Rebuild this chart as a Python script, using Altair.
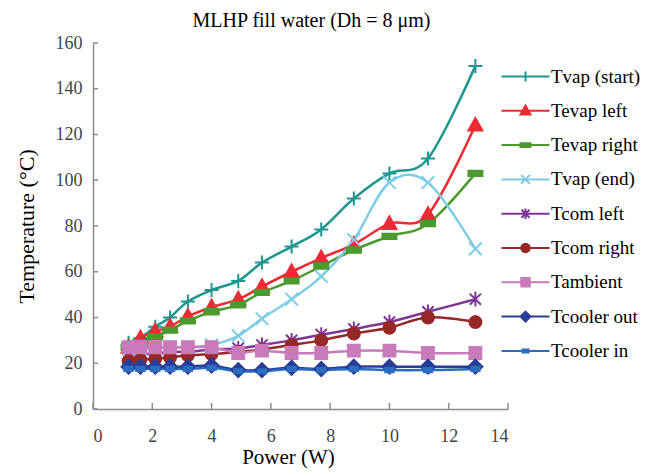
import math
import altair as alt
import pandas as pd

# ---------------- data ----------------
power = [1.2, 1.6, 2.1, 2.6, 3.2, 4.0, 4.9, 5.7, 6.7, 7.7, 8.8, 10.0, 11.3, 12.9]

tvap_start = [29, 31, 36, 40, 47, 52, 56, 64, 71, 78.5, 92, 103, 109.5, 150]
tevap_left = [27, 31, 34, 36, 40.5, 44.5, 48, 53.5, 60, 66, 72, 81, 85, 124]
tevap_right = [27, 29, 31.5, 34.5, 38.5, 42.5, 45.5, 51, 56, 62.5, 69.5, 75.5, 81, 103]
tvap_end = [26, 26, 27, 27, 27, 28, 32, 39.5, 48, 58, 74, 99, 99, 70]
tcom_left = [23, 24, 24, 25, 25, 26, 26.5, 28, 30, 32.5, 35, 38, 42.5, 48]
tcom_right = [21, 21.5, 22, 22.5, 23.5, 24, 25, 26, 28, 30, 33, 35.5, 40, 38]
tambient = [27, 27, 27, 27, 27, 27, 24.5, 25.5, 24.5, 24.5, 25.5, 25.5, 24.5, 24.5]
tcooler_out = [18.5, 18.5, 18.5, 18.5, 18.5, 19, 17, 17, 18, 17.5, 18.5, 18.5, 18.5, 18.5]
tcooler_in = [17.5, 17.5, 17.5, 17.5, 17.5, 18, 16.5, 16.5, 17.5, 17, 17.5, 17, 17, 17.5]

series_names = ["Tvap (start)", "Tevap left", "Tevap right", "Tvap (end)", "Tcom left",
                "Tcom right", "Tambient", "Tcooler out", "Tcooler in"]
series_values = [tvap_start, tevap_left, tevap_right, tvap_end, tcom_left,
                 tcom_right, tambient, tcooler_out, tcooler_in]

y_ticks = [0, 20, 40, 60, 80, 100, 120, 140, 160]
x_ticks = [0, 2, 4, 6, 8, 10, 12, 14]

# ---------------- styles ----------------
colors = ["#1E9690", "#EC2B34", "#4B9A2F", "#7ECDE6", "#7E3596",
          "#962828", "#C87ABA", "#283D98", "#2C6CC0"]


def polygon(n, r):
    pts = [(r * math.cos(2 * math.pi * i / n), r * math.sin(2 * math.pi * i / n)) for i in range(n)]
    return "M" + "L".join(f"{x:.3f},{y:.3f}" for x, y in pts) + "Z"


markers = [
    "M-1,0H1M0,-1V1",                                   # plus
    "M0,-1.05L1,0.75L-1,0.75Z",                          # triangle
    "M-1,-0.38H1V0.38H-1Z",                              # bar
    "M-0.9,-0.9L0.9,0.9M-0.9,0.9L0.9,-0.9",              # x
    "M-0.8,-0.8L0.8,0.8M-0.8,0.8L0.8,-0.8M0,-1.05V1.05",  # asterisk
    polygon(16, 0.85),                                   # circle
    "M-0.85,-0.85H0.85V0.85H-0.85Z",                     # square
    "M0,-1L1,0L0,1L-1,0Z",                               # diamond
    "M-0.6,-0.3H0.6V0.3H-0.6Z",                          # small bar
]
legend_shapes = ["M-4.8,0H4.8" + m for m in markers]

rows = []
for name, vals in zip(series_names, series_values):
    for p, v in zip(power, vals):
        rows.append({"series": name, "power": p, "temp": v})
df = pd.DataFrame(rows)

FONT = "Liberation Serif"
PW, PH = 415, 366

xscale = alt.Scale(domain=[0, 14], nice=False, zero=False)
yscale = alt.Scale(domain=[0, 160], nice=False)

x_axis = alt.Axis(values=x_ticks, title="Power (W)", titleX=195, labelPadding=18, titlePadding=1,
                  grid=False, ticks=False, labelFont=FONT, labelFontSize=18, labelColor="#444444",
                  titleFont=FONT, titleFontSize=21, titleFontWeight="normal", titleColor="black",
                  domainColor="#8c8c8c", domainWidth=1.5)
y_axis = alt.Axis(values=y_ticks, title="Temperature (°C)", labelPadding=11, titlePadding=17,
                  grid=False, ticks=False, labelFont=FONT, labelFontSize=18, labelColor="#444444",
                  titleFont=FONT, titleFontSize=22, titleFontWeight="normal", titleColor="black",
                  domainColor="#8c8c8c", domainWidth=1.5)

col_scale = alt.Scale(domain=series_names, range=colors)

X = alt.X("power:Q", scale=xscale, axis=x_axis)
Y = alt.Y("temp:Q", scale=yscale, axis=y_axis)

lines = alt.Chart(df).mark_line(interpolate="cardinal", strokeWidth=2.5).encode(
    x=X, y=Y,
    color=alt.Color("series:N", scale=col_scale, legend=None),
    detail="series:N",
)

points = alt.Chart(df).mark_point(filled=True, size=196, strokeWidth=2, opacity=1).encode(
    x=X, y=Y,
    fill=alt.Fill("series:N", scale=col_scale, legend=None),
    stroke=alt.Stroke("series:N", scale=col_scale, legend=None),
    shape=alt.Shape("series:N", scale=alt.Scale(domain=series_names, range=markers), legend=None),
)

legend_props = dict(orient="none", legendX=423, legendY=24, title=None, padding=0,
                    labelFont=FONT, labelFontSize=19, labelColor="black", labelOffset=16,
                    symbolSize=100, symbolStrokeWidth=2, rowPadding=14.3, labelLimit=200)

legend_layer = alt.Chart(df).transform_filter("datum.temp < -1000").mark_point(
    filled=True, strokeWidth=2, opacity=1, size=100).encode(
    x=X, y=Y,
    fill=alt.Fill("series:N", scale=alt.Scale(domain=series_names, range=colors),
                  legend=alt.Legend(**legend_props)),
    stroke=alt.Stroke("series:N", scale=alt.Scale(domain=series_names, range=colors),
                      legend=alt.Legend(**legend_props)),
    shape=alt.Shape("series:N", scale=alt.Scale(domain=series_names, range=legend_shapes),
                    legend=alt.Legend(**legend_props)),
)

ytick_df = pd.DataFrame({"v": y_ticks})
xtick_df = pd.DataFrame({"v": x_ticks})
yticks = alt.Chart(ytick_df).mark_rule(color="#8c8c8c", strokeWidth=1.5).encode(
    y=alt.Y("v:Q", scale=yscale, axis=y_axis), x=alt.value(0), x2=alt.value(5))
xticks = alt.Chart(xtick_df).mark_rule(color="#8c8c8c", strokeWidth=1.5).encode(
    x=alt.X("v:Q", scale=xscale, axis=x_axis), y=alt.value(PH), y2=alt.value(PH - 6))

chart = alt.layer(lines, points, legend_layer, yticks, xticks).resolve_scale(
    shape="independent", fill="independent", stroke="independent", color="independent"
).properties(
    width=PW, height=PH,
    autosize=alt.AutoSizeParams(type="none"),
    padding={"left": 85, "top": 35, "right": 140, "bottom": 59},
    title=alt.Title("MLHP fill water (Dh = 8 μm)", font=FONT, fontSize=20, fontWeight="normal",
                    color="black", offset=3, frame="group", dx=11),
).configure_view(stroke=None)

chart.save("out.html", embed_options={"renderer": "svg", "actions": False})
